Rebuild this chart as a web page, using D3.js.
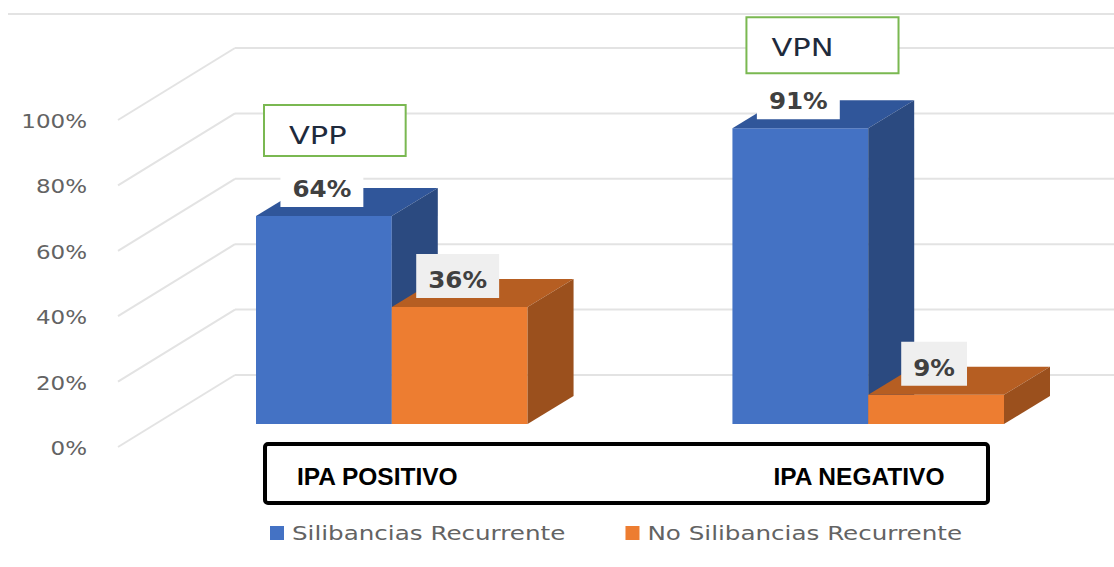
<!DOCTYPE html>
<html><head><meta charset="utf-8">
<script src="https://cdn.jsdelivr.net/npm/d3@7"></script>
<style>body{margin:0;background:#fff}svg{display:block}</style>
</head><body><svg id="c" width="1114" height="567"></svg>
<script>
// ---------- data ----------
const categories = ["IPA POSITIVO", "IPA NEGATIVO"];
const seriesNames = ["Silibancias Recurrente", "No Silibancias Recurrente"];
const silibancias = [0.64, 0.91];
const noSilibancias = [0.36, 0.09];
const yTicks = [0, 0.2, 0.4, 0.6, 0.8, 1.0];
const annotations = ["VPP", "VPN"];

// ---------- setup ----------
const W = 1114, H = 567;
const svg = d3.select("#c");
const seriesValues = [silibancias, noSilibancias];
const frontCol = ["#4472c4", "#ed7d31"];
const topCol = ["#30569a", "#b65e22"];
const sideCol = ["#2b4a80", "#9b501d"];
const labelFill = ["#ffffff", "#efefef"];
const gridCol = "#e3e3e3";

// wall (floor-to-back) geometry
const wallFrontX = 118, depthDX = 117, depthDY = -72;
const yWall = d3.scaleLinear().domain([0, 1]).range([447, 120]);
// bars
const y = d3.scaleLinear().domain([0, 1]).range([424, 99]);
const x0 = d3.scaleBand().domain(categories).range([256, 1004]).paddingInner(0.43).paddingOuter(0);
const x1 = d3.scaleBand().domain(seriesNames).range([0, x0.bandwidth()]);
const barDX = 46, barDY = -28;

function stretch(sel, sx) {
  sel.each(function () {
    const t = d3.select(this);
    const x = +t.attr("x") || 0, yy = +t.attr("y") || 0;
    t.attr("x", 0).attr("y", 0).attr("transform", `translate(${x},${yy}) scale(${sx},1)`);
  });
}

// top border line
svg.append("line").attr("x1", 8).attr("x2", W).attr("y1", 14).attr("y2", 14)
  .attr("stroke", gridCol).attr("stroke-width", 2);

// back-wall gridlines
svg.append("g").selectAll("line").data(yTicks).join("line")
  .attr("x1", wallFrontX + depthDX).attr("x2", W)
  .attr("y1", d => yWall(d) + depthDY).attr("y2", d => yWall(d) + depthDY)
  .attr("stroke", gridCol).attr("stroke-width", 2);
// side diagonals
svg.append("g").selectAll("line").data(yTicks).join("line")
  .attr("x1", wallFrontX).attr("y1", d => yWall(d))
  .attr("x2", wallFrontX + depthDX).attr("y2", d => yWall(d) + depthDY)
  .attr("stroke", gridCol).attr("stroke-width", 2);

// y axis labels
const ax = svg.append("g").attr("transform", "translate(87,1)")
  .call(d3.axisLeft(yWall).tickValues(yTicks).tickFormat(d3.format(".0%")).tickSize(0).tickPadding(0));
ax.select(".domain").remove();
ax.selectAll("text").attr("font-family", "DejaVu Sans").attr("font-size", 20).attr("fill", "#636363")
  .attr("x", 0).attr("transform", "scale(1.15,1)");

// bars
const barsG = svg.append("g");
categories.forEach((cat, i) => {
  seriesNames.forEach((s, j) => {
    const v = seriesValues[j][i];
    const fx = x0(cat) + x1(s), w = x1.bandwidth();
    const yt = y(v), yb = y(0);
    const g = barsG.append("g");
    g.append("rect").attr("x", fx).attr("y", yt).attr("width", w).attr("height", yb - yt).attr("fill", frontCol[j]);
    g.append("polygon").attr("points", [[fx, yt], [fx + barDX, yt + barDY], [fx + w + barDX, yt + barDY], [fx + w, yt]].join(" "))
      .attr("fill", topCol[j]);
    g.append("polygon").attr("points", [[fx + w, yt], [fx + w + barDX, yt + barDY], [fx + w + barDX, yb + barDY], [fx + w, yb]].join(" "))
      .attr("fill", sideCol[j]);
  });
});

// data labels
const fmt = d3.format(".0%");
categories.forEach((cat, i) => {
  seriesNames.forEach((s, j) => {
    const v = seriesValues[j][i];
    const fx = x0(cat) + x1(s), w = x1.bandwidth();
    const cx = fx + w / 2 - 2, bottom = y(v) - 9;
    const g = svg.append("g");
    const rect = g.append("rect");
    const t = g.append("text").text(fmt(v)).attr("font-family", "DejaVu Sans").attr("font-weight", "bold")
      .attr("font-size", 23).attr("fill", "#404040").attr("text-anchor", "middle")
      .attr("x", cx).attr("y", bottom - 10);
    const tw = t.node().getComputedTextLength() * 1.07;
    stretch(t, 1.07);
    rect.attr("x", cx - tw / 2 - 12).attr("width", tw + 24).attr("y", bottom - 44).attr("height", 44)
      .attr("fill", labelFill[j]);
  });
});

// annotation boxes (VPP / VPN)
categories.forEach((cat, i) => {
  const g = svg.append("g");
  const rect = g.append("rect");
  const t = g.append("text").text(annotations[i]).attr("font-family", "DejaVu Sans").attr("font-size", 25)
    .attr("fill", "#1e2a3c");
  const tw = t.node().getComputedTextLength() * 1.22;
  const left = x0(cat) + 8 + (i * 6), top = y(silibancias[i]) - 111;
  const bw = tw + 84 + i * 6, bh = 51 + i * 5;
  rect.attr("x", left).attr("y", top).attr("width", bw).attr("height", bh)
    .attr("fill", "#fff").attr("stroke", "#7ab851").attr("stroke-width", 2);
  t.attr("x", left + 25).attr("y", top + 39);
  stretch(t, 1.22);
});

// category box
const [r0, r1] = x0.range();
svg.append("rect").attr("x", r0 + 9).attr("y", y(0) + 20).attr("width", (r1 - 16) - (r0 + 9)).attr("height", 59)
  .attr("rx", 3).attr("fill", "none").attr("stroke", "#000").attr("stroke-width", 4);
svg.append("g").selectAll("text").data(categories).join("text")
  .attr("x", d => x0(d) + 41).attr("y", y(0) + 61)
  .attr("font-family", "Liberation Sans").attr("font-weight", "bold").attr("font-size", 24.5).attr("fill", "#000")
  .text(d => d);

// legend
let lx = 270;
const ly = 540;
seriesNames.forEach((s, j) => {
  svg.append("rect").attr("x", lx).attr("y", ly - 14).attr("width", 14).attr("height", 14).attr("fill", frontCol[j]);
  const t = svg.append("text").text(s).attr("font-family", "DejaVu Sans").attr("font-size", 20)
    .attr("fill", "#636363").attr("x", lx + 22).attr("y", ly);
  const tw = t.node().getComputedTextLength() * 1.23;
  stretch(t, 1.23);
  lx = lx + 22 + tw + 60;
});
</script>
</body></html>
